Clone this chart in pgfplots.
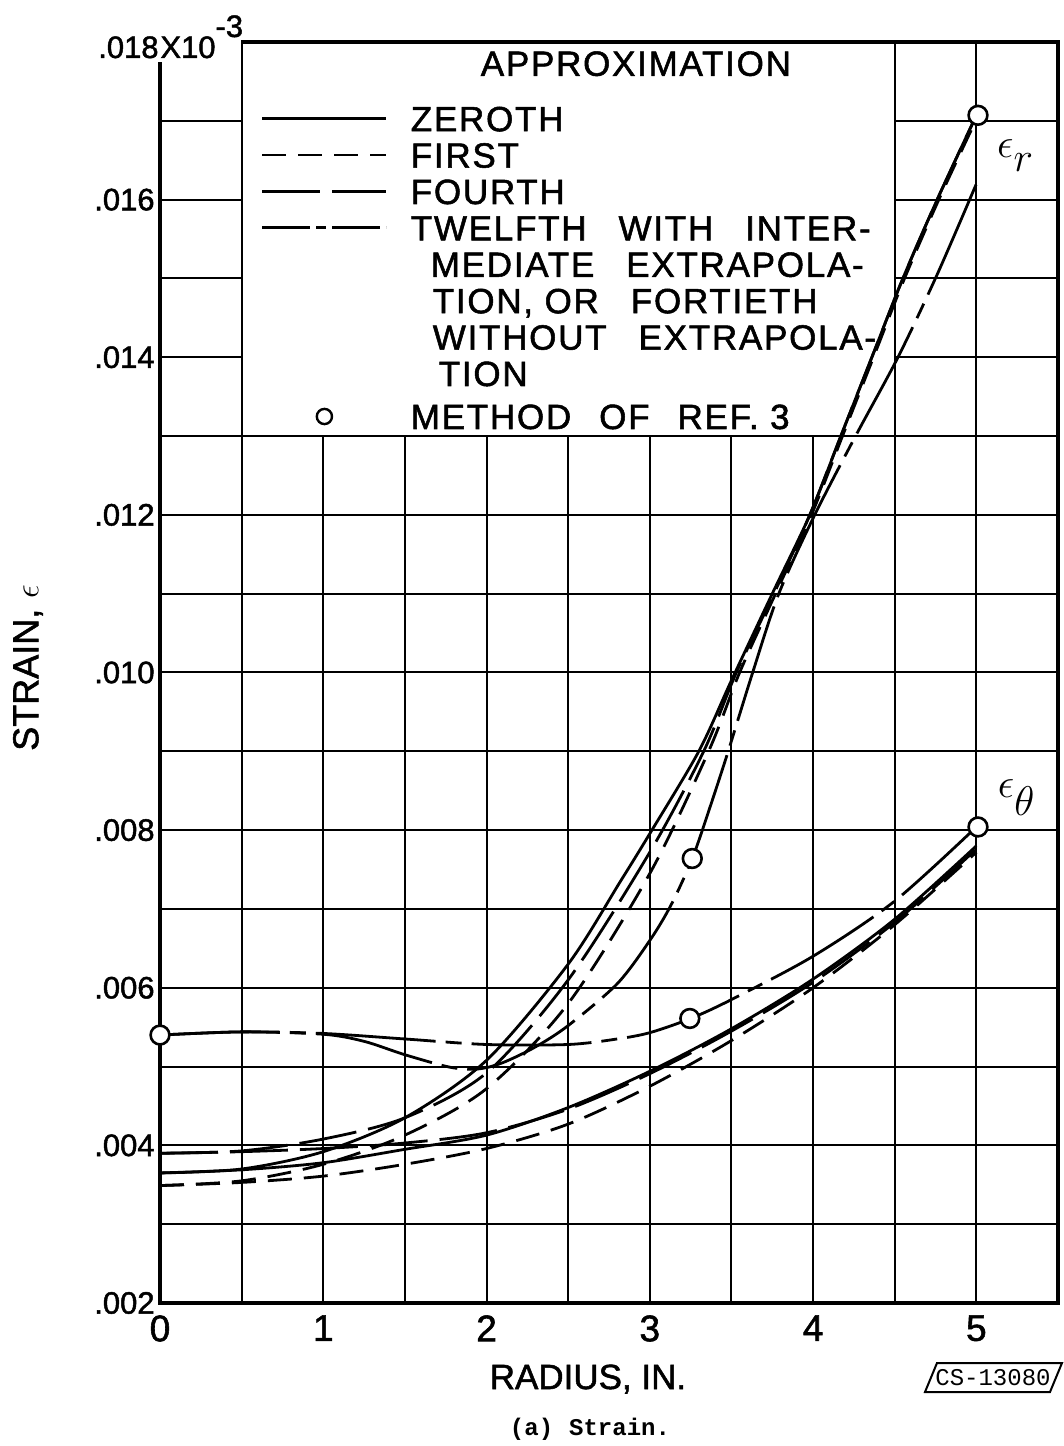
\documentclass[border=0pt]{standalone}
\usepackage{fontspec}
\setmainfont{Liberation Sans}[FakeBold=1.5]
\newfontfamily\legfont{Liberation Sans}[LetterSpace=5, FakeBold=1.5]
\newfontfamily\twfont{Liberation Mono}
\usepackage{pgfplots}
\pgfplotsset{compat=1.18}
\tikzset{
  zeroth/.style={black, solid, line width=1.4pt},
  first/.style={black, line width=1.4pt, dash pattern=on 12pt off 6pt},
  fourth/.style={black, line width=1.4pt, dash pattern=on 29pt off 6pt},
  twelfth/.style={black, line width=1.4pt, dash pattern=on 60pt off 5pt on 8pt off 5pt},
}
\pgfplotsset{
  circlegend/.style={legend image code/.code={\draw[black, only marks, mark=*, mark size=3.8pt, mark options={fill=white, line width=1.2pt}] plot coordinates {(31pt,0pt)};}},
}
\begin{document}
\begin{tikzpicture}
\begin{axis}[
  set layers,
  at={(0,0)}, anchor=south west,
  scale only axis, width=449pt, height=630.5pt,
  xmin=0, xmax=5.5, ymin=0.002, ymax=0.018,
  clip=false,
  scaled x ticks=false, scaled y ticks=false,
  xtick={0,1,2,3,4,5}, xticklabels={0,1,2,3,4,5},
  minor xtick={0.5,1.5,2.5,3.5,4.5},
  ytick={0.002,0.004,0.006,0.008,0.010,0.012,0.014,0.016},
  yticklabels={.002,.004,.006,.008,.010,.012,.014,.016},
  minor ytick={0.003,0.005,0.007,0.009,0.011,0.013,0.015,0.017},
  grid=both,
  major grid style={black, line width=1pt},
  minor grid style={black, line width=1pt},
  major tick length=0pt, minor tick length=0pt,
  axis line style={line width=1.6pt},
  xticklabel style={font=\fontsize{18.5}{20}\selectfont, inner sep=0pt, yshift=-6pt},
  yticklabel style={font=\fontsize{15.5}{18}\selectfont, inner sep=0pt, xshift=-2.5pt},
  xlabel={RADIUS, IN.},
  ylabel={STRAIN, $\epsilon$},
  every axis x label/.style={at={(axis description cs:0.4766,-0.0603)}, anchor=center, font=\fontsize{17.5}{20}\selectfont},
  every axis y label/.style={at={(axis description cs:-0.147,0.5036)}, anchor=center, rotate=90, font=\fontsize{18}{20}\selectfont},
  legend cell align=left,
  legend image code/.code={\draw[#1] (0pt,1.7pt) -- (62pt,1.7pt);},
  legend style={
    at={(axis cs:0.506,0.018)}, anchor=north west,
    draw=none, fill=none,
    inner xsep=9pt, inner ysep=3pt,
    column sep=11.5pt, row sep=0pt,
    font=\legfont\fontsize{17.5}{18}\selectfont,
    nodes={inner sep=0pt, text height=13.7pt, text depth=4.5pt},
  },
]
% legend box (white) over the grid; grid lines x=0.5, x=4.5, y=0.013 act as its border
\fill[white] (axis cs:0.5061,0.013013) rectangle (axis cs:4.494,0.017975);
% corner cover for top label
\fill[white] ([xshift=-1.2pt]axis cs:0,0.01775) rectangle ([yshift=1.2pt]axis cs:0.494,0.018);
\node[anchor=base east, inner sep=0pt, font=\fontsize{15.5}{18}\selectfont] at ([xshift=-0.5pt, yshift=-8pt]axis cs:0,0.018) {.018};
\node[anchor=base west, inner sep=0pt, font=\fontsize{15.5}{18}\selectfont] at ([yshift=-8pt]axis cs:0,0.018) {X10\raisebox{10.5pt}{-3}};

\addlegendimage{empty legend}
\addlegendentry[text depth=14pt]{\hspace*{35pt}APPROXIMATION}
\addlegendimage{zeroth}
\addlegendentry{ZEROTH}
\addlegendimage{first}
\addlegendentry{FIRST}
\addlegendimage{fourth}
\addlegendentry{FOURTH}
\addlegendimage{black, line width=1.4pt, dash pattern=on 24pt off 3pt on 5pt off 3pt}
\addlegendentry{TWELFTH\hspace{16pt}WITH\hspace{16pt}INTER-}
\addlegendimage{empty legend}
\addlegendentry{\hspace*{10pt}MEDIATE\hspace{16pt}EXTRAPOLA-}
\addlegendimage{empty legend}
\addlegendentry{\hspace*{11pt}TION, OR\hspace{16pt}FORTIETH}
\addlegendimage{empty legend}
\addlegendentry{\hspace*{11pt}WITHOUT\hspace{16pt}EXTRAPOLA-}
\addlegendimage{empty legend}
\addlegendentry{\hspace*{14pt}TION}
\addlegendimage{circlegend}
\addlegendentry[text height=17pt]{METHOD\hspace{14pt}OF\hspace{14pt}REF. 3}

% ---- radial strain, epsilon_r ----
\addplot[zeroth, smooth, forget plot] coordinates {
 (0,0.00365) (0.5,0.00370) (1,0.00392) (1.5,0.00435) (2,0.00508) (2.5,0.00630)
 (2.82,0.00735) (3.01,0.00799) (3.30,0.0090) (3.50,0.0099) (3.75,0.0110) (3.98,0.0120) (4.17,0.0130)
 (4.36,0.01400) (4.55,0.01500) (4.76,0.01600) (5.0,0.01707)};
\addplot[first, smooth, forget plot] coordinates {
 (0,0.00349) (0.5,0.00355) (1,0.00376) (1.5,0.00413) (2,0.00472) (2.5,0.00580)
 (3,0.00745) (3.36,0.0090) (3.55,0.0100) (3.77,0.0110) (3.99,0.0120) (4.18,0.0130)
 (4.37,0.01400) (4.56,0.01500) (4.77,0.01600) (5.0,0.01702)};
\addplot[fourth, smooth, forget plot] coordinates {
 (0,0.00390) (0.5,0.00393) (1,0.00408) (1.5,0.00435) (2,0.00492) (2.5,0.00610)
 (3,0.00772) (3.33,0.0090) (3.53,0.0100) (3.76,0.0110) (3.98,0.0120) (4.17,0.0130)
 (4.36,0.01400) (4.55,0.01500) (4.76,0.01600) (5.0,0.01707)};
\addplot[twelfth, smooth, forget plot] coordinates {
 (0,0.00540) (0.5,0.00544) (1,0.00541) (1.25,0.00532) (1.5,0.00515) (1.78,0.00499)
 (1.95,0.00497) (2.1,0.00505) (2.3,0.00525) (2.5,0.00552) (2.8,0.00605) (3.0,0.00660)
 (3.13,0.00705) (3.26,0.00764) (3.37,0.00830) (3.48,0.0090) (3.63,0.0100) (3.79,0.0110)
 (4.01,0.0120) (4.26,0.0130) (4.52,0.01400) (4.76,0.01505) (5.0,0.01620)};
% ---- tangential strain, epsilon_theta ----
\addplot[zeroth, smooth, forget plot] coordinates {
 (0,0.00365) (0.5,0.00369) (1,0.00378) (1.5,0.00395) (2,0.00413) (2.5,0.00448)
 (3,0.00494) (3.5,0.00548) (4,0.00611) (4.5,0.00687) (5,0.00780)};
\addplot[first, smooth, forget plot] coordinates {
 (0,0.00349) (0.5,0.00353) (1,0.00361) (1.5,0.00376) (2,0.00396) (2.5,0.00427)
 (3,0.00475) (3.5,0.00533) (4,0.00600) (4.5,0.00680) (5,0.00772)};
\addplot[fourth, smooth, forget plot] coordinates {
 (0,0.00390) (0.5,0.00392) (1,0.00396) (1.5,0.00403) (2,0.00416) (2.5,0.00446)
 (3,0.00491) (3.5,0.00545) (4,0.00607) (4.5,0.00683) (5,0.00776)};
\addplot[twelfth, smooth, forget plot] coordinates {
 (0,0.00540) (0.5,0.00544) (1,0.00542) (1.5,0.00535) (2,0.00528) (2.5,0.00528)
 (2.8,0.00535) (3.0,0.00543) (3.25,0.00561) (3.5,0.00585) (4.0,0.00640) (4.5,0.00710)
 (5.0,0.00804)};
% ---- method of ref. 3 ----
\addplot[black, only marks, mark=*, mark size=4.7pt, mark options={fill=white, line width=1.3pt}, forget plot]
 coordinates {(0,0.0054) (3.26,0.00764) (3.245,0.00561) (5.01,0.01707) (5.01,0.00804)};

\node[anchor=base west, inner sep=0pt, font=\fontsize{21}{24}\selectfont] at (axis cs:5.125,0.01653) {$\epsilon$\raisebox{-7pt}{$r$}};
\node[anchor=base west, inner sep=0pt, font=\fontsize{21}{24}\selectfont] at (axis cs:5.13,0.00841) {$\epsilon$\raisebox{-9pt}{$\theta$}};
\end{axis}
% CS number plate and caption
\draw[line width=1pt] (382.5pt,-44.5pt) -- (388.5pt,-30pt) -- (451pt,-30pt) -- (445pt,-44.5pt) -- cycle;
\node[font=\twfont\fontsize{12}{14}\selectfont, inner sep=0pt] at (416.5pt,-37.5pt) {CS-13080};
\node[font=\twfont\bfseries\fontsize{12}{14}\selectfont, inner sep=0pt] at (215pt,-63pt) {(a)\hspace{8pt}Strain.};
\pgfresetboundingbox
\path[use as bounding box] (-80pt,-71.5pt) rectangle (452pt,651.5pt);
\end{tikzpicture}
\end{document}
